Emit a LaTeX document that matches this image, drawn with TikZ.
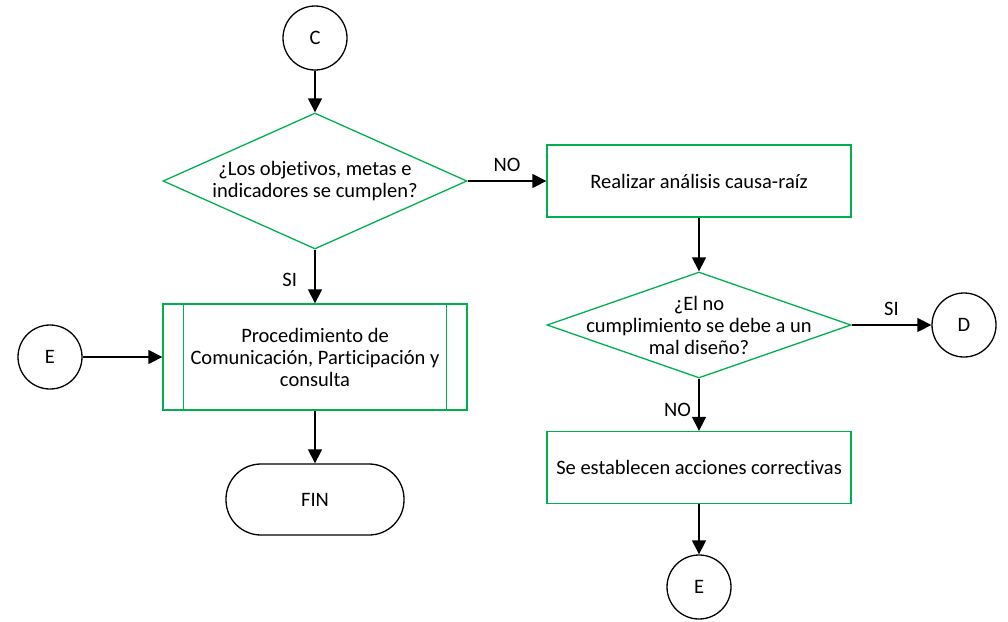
\documentclass[tikz,border=0pt]{standalone}
\usepackage{fontspec}
\setmainfont{Carlito}[Ligatures=NoCommon]
\usetikzlibrary{arrows.meta, shapes.geometric}
\definecolor{flowgreen}{RGB}{0,176,80}
\tikzset{
    connector/.style={draw=black, circle, minimum size=64pt, inner sep=0pt},
    decision/.style={draw=flowgreen, diamond, minimum width=304pt, minimum height=136pt, inner sep=0pt},
    process/.style={draw=flowgreen, rectangle, minimum width=304pt, minimum height=72pt, inner sep=0pt},
    subproc/.style={draw=flowgreen, rectangle, minimum width=304pt, minimum height=106pt, inner sep=0pt},
    terminal/.style={draw=black, rectangle, rounded corners=35pt, minimum width=178pt, minimum height=71pt},
    flow/.style={-{Triangle[length=14pt,width=14pt]}}
}

\begin{document}
\begin{tikzpicture}[x=1pt, y=-1pt, line width=1.3pt, font=\fontsize{20.5}{22}\selectfont]
    \useasboundingbox (0,0) rectangle (1008,621);
    % left column
    \node[connector] (C) at (315,38) {C};
    \node[decision] (Q1) at (315,181) {};
    \node[align=center] (Q1txt) at (Q1) {¿Los objetivos, metas e\\indicadores se cumplen?};
    \node[subproc, align=center] (PROC) at (315,357) {Procedimiento de\\Comunicación, Participación y\\consulta};
    \draw[flowgreen] ([xshift=21pt]PROC.north west) -- ([xshift=21pt]PROC.south west);
    \draw[flowgreen] ([xshift=-21pt]PROC.north east) -- ([xshift=-21pt]PROC.south east);
    \node[terminal] (FIN) at (315,499.5) {FIN};
    \node[connector] (E1) at (50,357) {E};
    % right column
    \node[process] (RCA) at (699,181) {Realizar análisis causa-raíz};
    \node[decision, minimum height=106pt] (Q2) at (699,325) {};
    \node[align=center] (Q2txt) at (Q2) {¿El no\\cumplimiento se debe a un\\mal diseño?};
    \node[connector] (D) at (964,325) {D};
    \node[process] (ACC) at (699,467.5) {Se establecen acciones correctivas};
    \node[connector] (E2) at (699,587) {E};
    % connectors
    \draw[flow] (C) -- (Q1);
    \draw[flow] (Q1) -- (PROC) node[midway, left=14pt, yshift=-3pt] {SI};
    \draw[flow] (Q1) -- (RCA) node[midway, above=5pt] {NO};
    \draw[flow] (E1) -- (PROC);
    \draw[flow] (PROC) -- (FIN);
    \draw[flow] (RCA) -- (Q2);
    \draw[flow] (Q2) -- (D) node[midway, above=5pt] {SI};
    \draw[flow] (Q2) -- (ACC) node[midway, left=4pt, yshift=-5pt] {NO};
    \draw[flow] (ACC) -- (E2);
\end{tikzpicture}
\end{document}
